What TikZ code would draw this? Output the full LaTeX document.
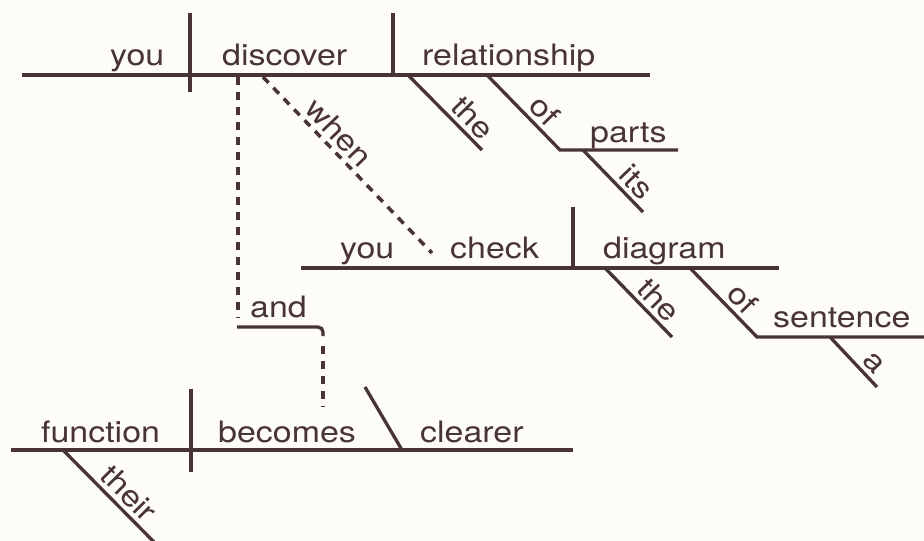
\documentclass[tikz,border=0pt]{standalone}
\usepackage{fontspec}
\newfontfamily\hv[FakeStretch=1.15]{TeX Gyre Heros}
\definecolor{ink}{RGB}{72,52,52}
\definecolor{paper}{RGB}{253,252,247}
\begin{document}
\begin{tikzpicture}[x=1pt,y=-1pt,
  ln/.style={draw=ink,line width=3.3pt},
  dsh/.style={ln,line width=3.5pt,dash pattern=on 8pt off 7pt},
  wd/.style={text=ink,font=\hv\fontsize{29.5}{34}\selectfont,inner sep=0pt,anchor=base west},
  sw/.style={text=ink,font=\hv\fontsize{29.5}{34}\selectfont,sloped,anchor=south,inner sep=4pt}]
\fill[paper] (0,0) rectangle (924,541);
\useasboundingbox (0,0) rectangle (924,541);

% ---------- top clause ----------
\coordinate (tL) at (22,75);   \coordinate (tR) at (650,75);
\coordinate (d1t) at (190,13); \coordinate (d1b) at (190,92);
\coordinate (d2t) at (393,13); \coordinate (d2b) at (393,75);
\draw[ln] (tL) -- (tR);
\draw[ln] (d1t) -- (d1b);
\draw[ln] (d2t) -- (d2b);
\node[wd] (you1) at (110,65) {you};
\node[wd] (discover) at (222,65) {discover};
\node[wd] (relationship) at (422,65) {relationship};

\coordinate (theAa) at (408,75); \coordinate (theAb) at (482,150);
\draw[ln] (theAa) -- (theAb) node[sw,pos=0.72] (theA) {the};

\coordinate (ofAa) at (487,75); \coordinate (ofAb) at (560,150); \coordinate (partsR) at (678,150);
\draw[ln] (ofAa) -- node[sw,pos=0.63] (ofA) {of} (ofAb) -- (partsR);
\node[wd] (parts) at (590,142) {parts};

\coordinate (itsa) at (583,150); \coordinate (itsb) at (643,212);
\draw[ln] (itsa) -- (itsb) node[sw,pos=0.70] (its) {its};

% ---------- when ----------
\coordinate (wA) at (263,77); \coordinate (wB) at (432,253);
\draw[dsh] (wA) -- (wB) node[sw,pos=0.38] (when) {when};

% ---------- and ----------
\coordinate (aTop) at (238,77); \coordinate (aDn) at (238,318);
\coordinate (andL) at (237,327); \coordinate (andR) at (323,327); \coordinate (andC) at (323,336);
\coordinate (bTop) at (323,346); \coordinate (bDn) at (323,407);
\draw[dsh] (aTop) -- (aDn);
\draw[ln,rounded corners=5pt] (andL) -- (andR) -- (andC);
\draw[dsh] (bTop) -- (bDn);
\node[wd] (and) at (250,317) {and};

% ---------- check clause ----------
\coordinate (cL) at (301,268); \coordinate (cR) at (779,268);
\coordinate (c1t) at (573,207); \coordinate (c1b) at (573,268);
\draw[ln] (cL) -- (cR);
\draw[ln] (c1t) -- (c1b);
\node[wd] (you2) at (340,258) {you};
\node[wd] (check) at (450,258) {check};
\node[wd] (diagram) at (603,258) {diagram};

\coordinate (theBa) at (605,268); \coordinate (theBb) at (672,337);
\draw[ln] (theBa) -- (theBb) node[sw,pos=0.63] (theB) {the};

\coordinate (ofBa) at (690,268); \coordinate (ofBb) at (757,337); \coordinate (sentR) at (924,337);
\draw[ln] (ofBa) -- node[sw,pos=0.61] (ofB) {of} (ofBb) -- (sentR);
\node[wd] (sentence) at (773,327) {sentence};

\coordinate (aa) at (830,337); \coordinate (ab) at (877,387);
\draw[ln] (aa) -- (ab) node[sw,pos=0.71] (a) {a};

% ---------- bottom clause ----------
\coordinate (bL) at (11,450); \coordinate (bR) at (573,450);
\coordinate (b1t) at (191,389); \coordinate (b1b) at (191,472);
\coordinate (slt) at (365,387); \coordinate (slb) at (402,450);
\draw[ln] (bL) -- (bR);
\draw[ln] (b1t) -- (b1b);
\draw[ln] (slt) -- (slb);
\node[wd] (function) at (41,442) {function};
\node[wd] (becomes) at (218,442) {becomes};
\node[wd] (clearer) at (420,442) {clearer};

\coordinate (thra) at (63,450); \coordinate (thrb) at (155,543);
\draw[ln] (thra) -- (thrb) node[sw,pos=0.59] (their) {their};
\end{tikzpicture}
\end{document}
